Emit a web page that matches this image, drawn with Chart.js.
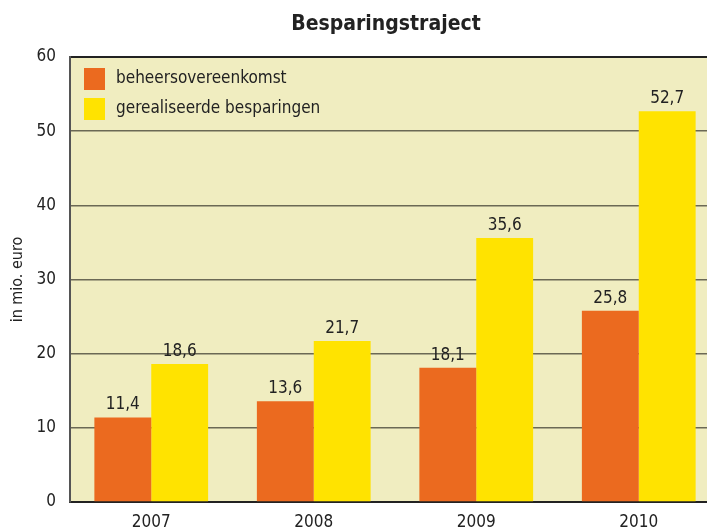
<!DOCTYPE html>
<html>
<head>
<meta charset="utf-8">
<script src="https://cdn.jsdelivr.net/npm/chart.js@4/dist/chart.umd.min.js"></script>
<style>
  html, body { margin: 0; padding: 0; background: #fff; overflow: hidden; }
  #wrap { width: 707px; height: 532px; overflow: hidden; }
</style>
</head>
<body>
<div id="wrap"><canvas id="chart" width="730" height="532"></canvas></div>
<script>
const years = ["2007", "2008", "2009", "2010"];
const beheersovereenkomst = [11.4, 13.6, 18.1, 25.8];
const gerealiseerd = [18.6, 21.7, 35.6, 52.7];
const yTicks = [0, 10, 20, 30, 40, 50, 60];
const chartTitle = "Besparingstraject";

const FONT = "'Liberation Sans Narrow', 'DejaVu Sans Condensed', 'Arial Narrow', sans-serif";
const plotBg = "#F0EDC0";

// plot background + title over the plot
const plotBackground = {
  id: "plotBackground",
  beforeDraw(chart) {
    const { ctx, chartArea: a } = chart;
    ctx.save();
    ctx.fillStyle = plotBg;
    ctx.fillRect(a.left, a.top, a.right - a.left, a.bottom - a.top);
    ctx.fillStyle = "#222";
    ctx.font = "bold 21px " + FONT;
    ctx.textAlign = "center";
    ctx.textBaseline = "middle";
    ctx.fillText(chartTitle, (a.left + a.right) / 2 - 9, 25);
    ctx.restore();
  },
};

// values above bars
const barLabels = {
  id: "barLabels",
  afterDatasetsDraw(chart) {
    const ctx = chart.ctx;
    ctx.save();
    ctx.font = "17px " + FONT;
    ctx.fillStyle = "#222";
    ctx.textAlign = "center";
    ctx.textBaseline = "bottom";
    chart.data.datasets.forEach((ds, i) => {
      chart.getDatasetMeta(i).data.forEach((bar, j) => {
        const txt = ds.data[j].toFixed(1).replace(".", ",");
        ctx.fillText(txt, bar.x, bar.y - 4);
      });
    });
    ctx.restore();
  },
};

// legend inside the plot, top left
const innerLegend = {
  id: "innerLegend",
  afterDraw(chart) {
    const { ctx, chartArea: a } = chart;
    ctx.save();
    ctx.font = "17px " + FONT;
    ctx.textBaseline = "middle";
    ctx.textAlign = "left";
    chart.data.datasets.forEach((ds, i) => {
      const y = a.top + 11 + i * 30;
      ctx.fillStyle = ds.backgroundColor;
      ctx.fillRect(a.left + 14, y, 21, 22);
      ctx.fillStyle = "#222";
      ctx.fillText(ds.label, a.left + 46, y + 11);
    });
    ctx.restore();
  },
};

new Chart(document.getElementById("chart"), {
  type: "bar",
  data: {
    labels: years,
    datasets: [
      {
        label: "beheersovereenkomst",
        data: beheersovereenkomst,
        backgroundColor: "#EB6A1F",
        categoryPercentage: 0.7,
        barPercentage: 1,
      },
      {
        label: "gerealiseerde besparingen",
        data: gerealiseerd,
        backgroundColor: "#FFE300",
        categoryPercentage: 0.7,
        barPercentage: 1,
      },
    ],
  },
  options: {
    responsive: false,
    animation: false,
    layout: { padding: { left: 0, right: 10, top: 57, bottom: 0 } },
    plugins: {
      legend: { display: false },
      tooltip: { enabled: false },
      title: { display: false },
    },
    scales: {
      x: {
        grid: { display: false, drawTicks: false },
        border: { display: true, color: "#222", width: 2 },
        ticks: { color: "#222", font: { family: FONT, size: 17 }, padding: 10 },
        afterFit(scale) { scale.height = 30; },
      },
      y: {
        min: 0,
        max: 60,
        afterBuildTicks(scale) { scale.ticks = yTicks.map((v) => ({ value: v })); },
        grid: {
          drawTicks: false,
          color: (c) => (c.tick && c.tick.value === 60 ? "#222" : "#6b6955"),
          lineWidth: (c) => (c.tick && c.tick.value === 60 ? 2 : 1.5),
        },
        border: { display: true, color: "#555", width: 2 },
        ticks: { color: "#222", font: { family: FONT, size: 17 }, padding: 14 },
        title: {
          display: true,
          text: "in mio. euro",
          color: "#222",
          font: { family: FONT, size: 16 },
          padding: { top: 8, bottom: 0 },
        },
        afterFit(scale) { scale.width = 70; },
      },
    },
  },
  plugins: [plotBackground, barLabels, innerLegend],
});
</script>
</body>
</html>
